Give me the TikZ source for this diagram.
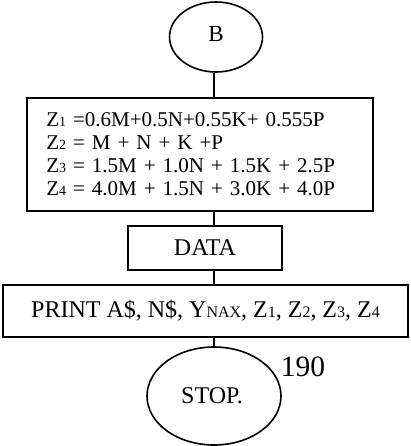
\documentclass[tikz,border=0pt]{standalone}
\usepackage{fontspec}
\setmainfont{Liberation Serif}
\usetikzlibrary{shapes.geometric}
\newcommand\zsb[1]{{\fontsize{14}{14}\selectfont #1}}
\newcommand\psb[1]{{\fontsize{16}{16}\selectfont #1}}
\begin{document}
\begin{tikzpicture}[x=1pt,y=-1pt,line width=1.6pt,
  boxshape/.style={draw,rectangle,inner sep=0pt},
  ovalshape/.style={draw,ellipse,inner sep=0pt},
  conn/.style={line width=1.6pt}]
\useasboundingbox (0,0) rectangle (410,446);
\node[ovalshape,minimum width=93pt,minimum height=70pt,font=\fontsize{23}{27}\selectfont] (b) at (216,37) {\raisebox{6pt}{B}};
\node[boxshape,anchor=north west,minimum width=346pt,minimum height=113pt,text width=307pt,align=left,font=\fontsize{21}{22.8}\selectfont] (z) at (26,97)
 {\raisebox{-3pt}{\parbox{307pt}{Z\zsb{1} =0.6M+0.5N+0.55K+ 0.555P\\
  Z\zsb{2} = M + N + K +P\\
  Z\zsb{3} = 1.5M + 1.0N + 1.5K + 2.5P\\
  Z\zsb{4} = 4.0M + 1.5N + 3.0K + 4.0P}}};
\node[boxshape,minimum width=154pt,minimum height=44pt,font=\fontsize{24}{28}\selectfont] (d) at (205,248) {DATA};
\node[boxshape,minimum width=405pt,minimum height=52pt,font=\fontsize{24}{28}\selectfont] (p) at (205.5,311)
 {PRINT A\$, N\$, Y\psb{NAX}, Z\psb{1}, Z\psb{2}, Z\psb{3}, Z\psb{4}};
\node[ovalshape,minimum width=134pt,minimum height=98pt,font=\fontsize{24}{28}\selectfont] (s) at (214,396) {\raisebox{-8pt}{\hspace*{-4pt}STOP.}};
\node[anchor=base west,inner sep=0pt,font=\fontsize{29.5}{30}\selectfont] (n) at (280,376.5) {190};
\draw[conn] (s.north |- b.south) -- (s.north |- z.north);
\draw[conn] (s.north |- z.south) -- (s.north |- d.north);
\draw[conn] (s.north |- d.south) -- (s.north |- p.north);
\draw[conn] (p.south -| s.north) -- (s.north);
\end{tikzpicture}
\end{document}
